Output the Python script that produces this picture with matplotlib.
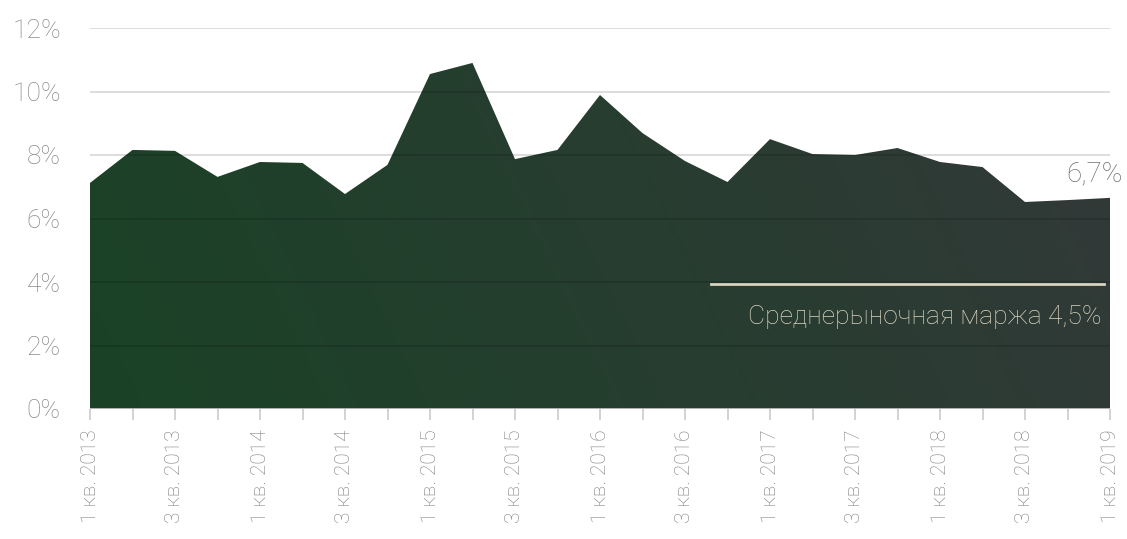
import numpy as np
import matplotlib.pyplot as plt
from matplotlib.colors import LinearSegmentedColormap

# -----------------------------
# Data
# -----------------------------
quarters = []
for year in range(2013, 2019):
    for q in range(1, 5):
        quarters.append(f"{q} кв. {year}")
quarters.append("1 кв. 2019")

margin = [7.12, 8.16, 8.13, 7.31, 7.78, 7.75, 6.77, 7.69, 10.55, 10.90,
          7.87, 8.16, 9.89, 8.69, 7.81, 7.15, 8.50, 8.03, 8.00, 8.22,
          7.78, 7.62, 6.52, 6.58, 6.65]

market_level = 3.94
market_start = 14.6
market_label = "Среднерыночная маржа 4,5%"
last_label = "6,7%"

# -----------------------------
# Plot
# -----------------------------
plt.rcParams['font.family'] = ['Roboto', 'DejaVu Sans']

fig = plt.figure(figsize=(11.27, 5.39), dpi=100)
ax = fig.add_axes([90 / 1127, 130 / 539, 1020 / 1127, 381 / 539])

x = np.arange(len(margin))
ax.set_xlim(0, len(margin) - 1)
ax.set_ylim(0, 12)

# gradient fill clipped to the area polygon
poly = ax.fill_between(x, margin, 0, color="none", lw=0)
cmap = LinearSegmentedColormap.from_list("gr", ["#1a4226", "#333939"])
gx, gy = np.meshgrid(np.linspace(0, 1, 256), np.linspace(0, 1, 64))
grad = 0.85 * gx + 0.15 * gy
img = ax.imshow(grad, cmap=cmap, extent=[0, len(margin) - 1, 0, 12],
                origin="lower", aspect="auto", zorder=1)
img.set_clip_path(poly.get_paths()[0], transform=ax.transData)

# grid
for yv in range(2, 13, 2):
    ax.axhline(yv, color="black", alpha=0.15, lw=1.3, zorder=2)
ax.axhline(0, color="#bfbfbf", lw=1.3, zorder=3)

# market average line
ax.plot([market_start, len(margin) - 1.15], [market_level, market_level],
        color="#d8d3bf", lw=2, zorder=4)
ax.text(len(margin) - 1.2, market_level - 1.05, market_label,
        ha="right", va="center", fontsize=19, fontweight="light",
        color="#d8d3bf", zorder=5)
ax.text(len(margin) - 1 + 0.3, margin[-1] + 0.75, last_label,
        ha="right", va="center", fontsize=20, fontweight="light",
        color="#6f6f6f", zorder=5, clip_on=False)

# axes styling
for s in ax.spines.values():
    s.set_visible(False)

ax.set_yticks(range(0, 13, 2))
ax.set_yticklabels([f"{v}%" for v in range(0, 13, 2)], fontsize=19,
                   fontweight="light", color="#8a8a8a")
ax.tick_params(axis="y", length=0, pad=21)

ax.set_xticks(x)
ax.set_xticklabels([q if i % 2 == 0 else "" for i, q in enumerate(quarters)],
                   rotation=90, fontsize=15, fontweight="light", color="#7f7f7f")
ax.tick_params(axis="x", length=8, width=1.3, color="#cfcfcf", pad=7)

fig.savefig("out.png", dpi=100)
